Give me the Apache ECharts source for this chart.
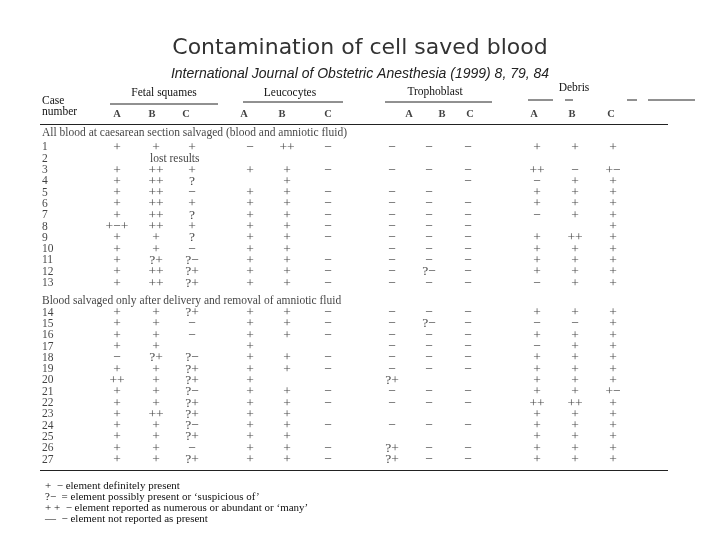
<!DOCTYPE html>
<html>
<head>
<meta charset="utf-8">
<script src="https://cdn.jsdelivr.net/npm/echarts@6/dist/echarts.min.js"></script>
<style>
  html, body { margin: 0; padding: 0; background: #fff; }
  #chart { width: 720px; height: 540px; }
</style>
</head>
<body>
<div id="chart"></div>
<script>
const titleText = 'Contamination of cell saved blood';
const sourceText = 'International Journal of Obstetric Anesthesia (1999) 8, 79, 84';
const groupNames = ['Fetal squames', 'Leucocytes', 'Trophoblast', 'Debris'];
const subColumns = ['A', 'B', 'C'];
const sectionTitles = [
  'All blood at caesarean section salvaged (blood and amniotic fluid)',
  'Blood salvaged only after delivery and removal of amniotic fluid'
];
const caseNumbers = ['1','2','3','4','5','6','7','8','9','10','11','12','13',
  '14','15','16','17','18','19','20','21','22','23','24','25','26','27'];

const fetalSquames = [
  ['+','+','+'], ['','lost results',''], ['+','++','+'], ['+','++','?'], ['+','++','−'],
  ['+','++','+'], ['+','++','?'], ['+−+','++','+'], ['+','+','?'], ['+','+','−'],
  ['+','?+','?−'], ['+','++','?+'], ['+','++','?+'],
  ['+','+','?+'], ['+','+','−'], ['+','+','−'], ['+','+',''], ['−','?+','?−'],
  ['+','+','?+'], ['++','+','?+'], ['+','+','?−'], ['+','+','?+'], ['+','++','?+'],
  ['+','+','?−'], ['+','+','?+'], ['+','+','−'], ['+','+','?+']
];
const leucocytes = [
  ['−','++','−'], ['','',''], ['+','+','−'], ['','+',''], ['+','+','−'],
  ['+','+','−'], ['+','+','−'], ['+','+','−'], ['+','+','−'], ['+','+',''],
  ['+','+','−'], ['+','+','−'], ['+','+','−'],
  ['+','+','−'], ['+','+','−'], ['+','+','−'], ['+','',''], ['+','+','−'],
  ['+','+','−'], ['+','',''], ['+','+','−'], ['+','+','−'], ['+','+',''],
  ['+','+','−'], ['+','+',''], ['+','+','−'], ['+','+','−']
];
const trophoblast = [
  ['−','−','−'], ['','',''], ['−','−','−'], ['','','−'], ['−','−',''],
  ['−','−','−'], ['−','−','−'], ['−','−','−'], ['−','−','−'], ['−','−','−'],
  ['−','−','−'], ['−','?−','−'], ['−','−','−'],
  ['−','−','−'], ['−','?−','−'], ['−','−','−'], ['−','−','−'], ['−','−','−'],
  ['−','−','−'], ['?+','',''], ['−','−','−'], ['−','−','−'], ['','',''],
  ['−','−','−'], ['','',''], ['?+','−','−'], ['?+','−','−']
];
const debris = [
  ['+','+','+'], ['','',''], ['++','−','+−'], ['−','+','+'], ['+','+','+'],
  ['+','+','+'], ['−','+','+'], ['','','+'], ['+','++','+'], ['+','+','+'],
  ['+','+','+'], ['+','+','+'], ['−','+','+'],
  ['+','+','+'], ['−','−','+'], ['+','+','+'], ['−','+','+'], ['+','+','+'],
  ['+','+','+'], ['+','+','+'], ['+','+','+−'], ['++','++','+'], ['+','+','+'],
  ['+','+','+'], ['+','+','+'], ['+','+','+'], ['+','+','+']
];
const legendLines = [
  '+  − element definitely present',
  '?−  = element possibly present or ‘suspicious of’',
  '+ +  − element reported as numerous or abundant or ‘many’',
  '—  − element not reported as present'
];

// ---- layout (axis units: x = 10px steps from table edge, y = table rows) ----
const caseX = 0.2;
const cellX = [7.7, 11.6, 15.2, 21.0, 24.7, 28.8, 35.2, 38.9, 42.8, 49.7, 53.5, 57.3];
const letterX = [7.7, 11.2, 14.6, 20.4, 24.2, 28.8, 36.9, 40.2, 43.0, 49.4, 53.2, 57.1];
const sectionGap = 1.62;           // extra space before the second block
const sectionY = [-1.3, 13.57];
const letterY = -2.95;
const rowY = i => (i < 13 ? i : i + sectionGap);

const groups = [fetalSquames, leucocytes, trophoblast, debris];
const cellData = [];
caseNumbers.forEach((c, i) => {
  groups.forEach((g, gi) => {
    g[i].forEach((txt, ci) => {
      if (!txt) return;
      const item = { value: [cellX[gi * 3 + ci], rowY(i)], name: txt };
      if (txt.length > 3) item.label = { align: 'left', offset: [-6, 0], fontSize: 11.5 };
      cellData.push(item);
    });
  });
});
const caseData = caseNumbers.map((c, i) => ({ value: [caseX, rowY(i)], name: c }));
const sectionData = sectionTitles.map((t, i) => ({ value: [caseX, sectionY[i]], name: t }));
const letterData = letterX.map((x, i) => ({ value: [x, letterY], name: subColumns[i % 3] }));

const serif = 'Liberation Serif';
const ink = '#111';
const textSeries = (data, extra) => ({
  type: 'scatter',
  data: data,
  symbolSize: 1,
  itemStyle: { color: 'rgba(0,0,0,0)' },
  silent: true,
  label: Object.assign({
    show: true, position: 'inside', formatter: p => p.name,
    fontFamily: serif, fontSize: 11.5, color: ink
  }, extra)
});

const chart = echarts.init(document.getElementById('chart'));
const line = (x1, y1, x2, y2, w) => ({
  type: 'line', shape: { x1, y1, x2, y2 },
  style: { stroke: '#222', lineWidth: w || 1 }
});
const headerText = (x, y, t, align) => ({
  type: 'text', x, y,
  style: { text: t, fontFamily: serif, fontSize: 11.5, fill: ink,
           align: align || 'center', verticalAlign: 'middle' }
});

chart.setOption({
  backgroundColor: '#fff',
  animation: false,
  title: {
    text: titleText,
    subtext: sourceText,
    left: 'center',
    top: 32,
    itemGap: 8,
    textStyle: { fontFamily: 'DejaVu Sans', fontWeight: 'normal', fontSize: 22, color: '#333' },
    subtextStyle: { fontFamily: 'Liberation Sans', fontStyle: 'italic', fontSize: 14, color: '#222' }
  },
  grid: { left: 40, right: 30, top: 102.2, bottom: 53.6 },
  xAxis: { type: 'value', min: 0, max: 65, show: false },
  yAxis: { type: 'value', min: -4, max: 30, inverse: true, show: false },
  series: [
    textSeries(cellData, { fontSize: 13.5 }),
    textSeries(caseData, { align: 'left' }),
    textSeries(sectionData, { align: 'left' }),
    textSeries(letterData, { fontWeight: 'bold', fontSize: 10.5 })
  ],
  graphic: [
    headerText(42, 101, 'Case', 'left'),
    headerText(42, 111.5, 'number', 'left'),
    headerText(164, 93, groupNames[0]),
    headerText(290, 93, groupNames[1]),
    headerText(435, 92, groupNames[2]),
    headerText(574, 88, groupNames[3]),
    line(110, 104, 218, 104),
    line(243, 102, 343, 102),
    line(385, 102, 492, 102),
    line(528, 100, 553, 100),
    line(565, 100, 573, 100),
    line(627, 100, 637, 100),
    line(648, 100, 695, 100),
    line(40, 124.5, 668, 124.5, 1.2),
    line(40, 470.5, 668, 470.5, 1.2)
  ].concat(legendLines.map((t, i) => ({
    type: 'text', x: 45, y: 486 + i * 11,
    style: { text: t, fontFamily: serif, fontSize: 11, fill: ink, verticalAlign: 'middle' }
  })))
});
</script>
</body>
</html>
